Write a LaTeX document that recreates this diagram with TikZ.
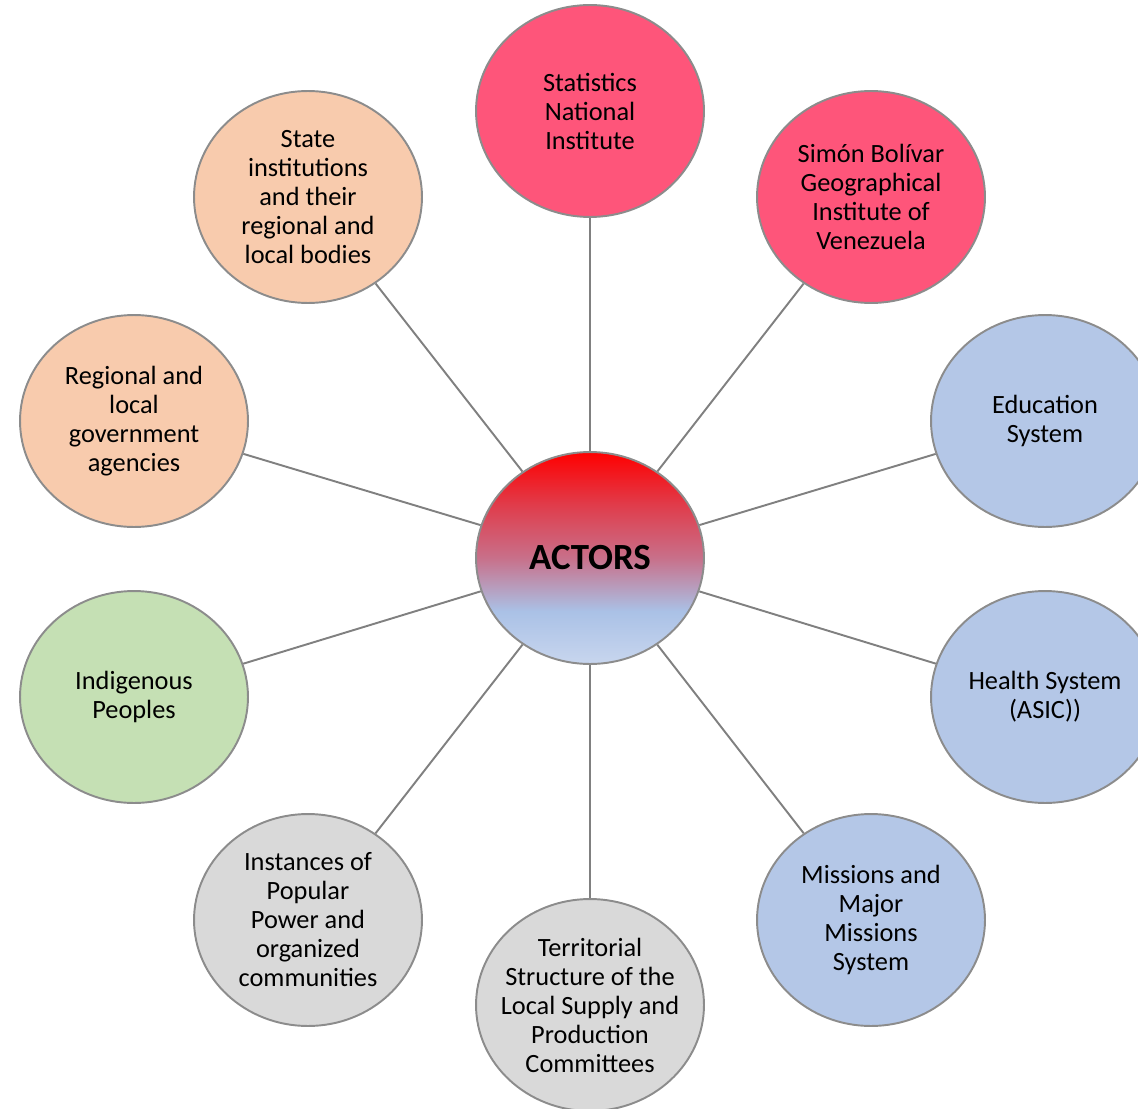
\documentclass[tikz,border=0pt]{standalone}
\usepackage{fontspec}
\setmainfont{Carlito}
\usepackage{xcolor}
\usepackage{tikz}
\usetikzlibrary{shapes.geometric}

\definecolor{govpink}{RGB}{254,85,122}
\definecolor{statepeach}{RGB}{248,203,173}
\definecolor{sysblue}{RGB}{180,199,231}
\definecolor{indgreen}{RGB}{197,224,180}
\definecolor{popgray}{RGB}{217,217,217}
\definecolor{rimgray}{RGB}{140,140,140}
\definecolor{linkgray}{RGB}{128,128,128}
% red-to-blue fill of the hub
\definecolor{hubred}{RGB}{255,0,0}
\definecolor{hubredmid}{RGB}{224,60,75}
\definecolor{hubmid}{RGB}{200,112,138}
\definecolor{hubblue}{RGB}{170,193,230}
\definecolor{hubpale}{RGB}{200,214,238}
\pgfdeclareverticalshading{hubshade}{100bp}{color(0bp)=(hubpale); color(25bp)=(hubpale);
  color(37.5bp)=(hubblue); color(50bp)=(hubmid); color(62.5bp)=(hubredmid);
  color(75bp)=(hubred); color(100bp)=(hubred)}

\begin{document}
\begin{tikzpicture}[x=0.02cm, y=-0.02cm,
    actor/.style={ellipse, draw=rimgray, line width=1.1pt, minimum width=4.56cm,
      minimum height=4.24cm, inner xsep=-0.5cm, inner ysep=0pt, align=center,
      font=\fontsize{15}{16.5}\selectfont},
    hub/.style={actor, shading=hubshade, font=\fontsize{21}{24}\selectfont\bfseries},
    link/.style={draw=linkgray, line width=1.1pt}]
    \clip (0,0) rectangle (1138,1108);

    \node[hub] (actors) at (590,558) {ACTORS};

    \node[actor, fill=govpink] (ine)  at (590,111)  {Statistics\\National\\Institute};
    \node[actor, fill=govpink] (igv)  at (871,197)  {Simón Bolívar\\Geographical\\Institute of\\Venezuela};
    \node[actor, fill=sysblue] (edu)  at (1045,421) {Education\\System};
    \node[actor, fill=sysblue] (asic) at (1045,697) {Health System\\(ASIC))};
    \node[actor, fill=sysblue] (mis)  at (871,920)  {Missions and\\Major\\Missions\\System};
    \node[actor, fill=popgray] (clap) at (590,1005) {Territorial\\Structure of the\\Local Supply and\\Production\\Committees};
    \node[actor, fill=popgray] (pop)  at (308,920)  {Instances of\\Popular\\Power and\\organized\\communities};
    \node[actor, fill=indgreen] (ind) at (134,697)  {Indigenous\\Peoples};
    \node[actor, fill=statepeach] (reg) at (134,421) {Regional and\\local\\government\\agencies};
    \node[actor, fill=statepeach] (sta) at (308,197) {State\\institutions\\and their\\regional and\\local bodies};

    \path[link]
    (actors) edge (ine)  (actors) edge (igv)
    (actors) edge (edu)  (actors) edge (asic)
    (actors) edge (mis)  (actors) edge (clap)
    (actors) edge (pop)  (actors) edge (ind)
    (actors) edge (reg)  (actors) edge (sta);

\end{tikzpicture}
\end{document}
